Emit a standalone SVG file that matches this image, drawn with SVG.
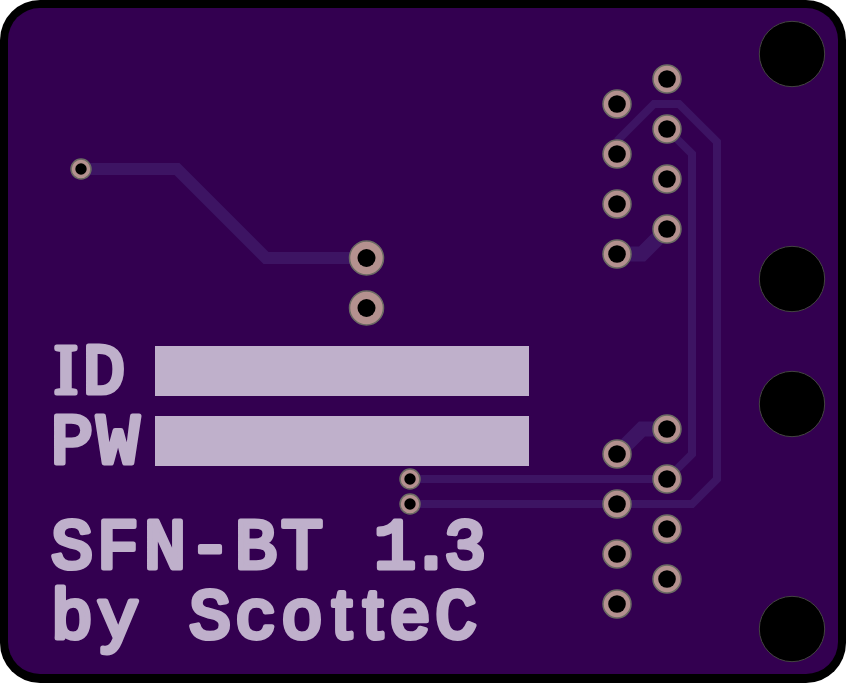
<svg xmlns="http://www.w3.org/2000/svg" width="846" height="683" viewBox="0 0 846 683">
<style>
.t{fill:none;stroke:#3d1463;stroke-width:8;stroke-linejoin:miter}
.w{stroke-width:12}.x{stroke-width:15}
.r{fill:#b4918f;stroke:#6b6b63;stroke-width:1.5}
.h{fill:#000}
.m{fill:#000;stroke:#444441;stroke-width:1}
.s{fill:#bfb0cb}
.l{font-family:"Liberation Mono",monospace;font-weight:400;font-size:70px;text-anchor:middle;fill:#bfb0cb;stroke:#bfb0cb;stroke-width:5;stroke-linejoin:round;stroke-linecap:round}
.n{font-family:"Liberation Serif",serif}
.a{font-family:"Liberation Sans",sans-serif}
</style>
<defs>
<g id="pad"><circle class="r" r="14"/><circle class="h" r="8.800"/></g>
<g id="big"><circle class="r" r="17"/><circle class="h" r="9"/></g>
<g id="via"><circle class="r" r="10"/><circle class="h" r="5.700"/></g>
</defs>
<rect width="846" height="683" fill="#fff"/>
<rect id="edge" width="846" height="683" rx="40" fill="#000"/>
<rect id="board" x="8" y="8" width="830" height="666" rx="32" fill="#330050"/>
<g id="connectors">
<path class="t w" d="M81 169H177L266 258H367"/>
<path class="t" d="M617 141L654 104H679L717 142V479L692 504H410"/>
<path class="t" d="M667 129L692 154V454L667 479H410"/>
<path class="t x" d="M617 254H642L667 229"/>
<path class="t x" d="M617 454L642 429H667"/>
</g>
<g id="mounting-holes">
<circle class="m" cx="792" cy="54" r="32.700"/>
<circle class="m" cx="792" cy="279" r="32.700"/>
<circle class="m" cx="792" cy="404" r="32.700"/>
<circle class="m" cx="792" cy="629" r="32.700"/>
</g>
<g id="pads-top">
<use href="#pad" x="667" y="79"/><use href="#pad" x="667" y="129"/><use href="#pad" x="667" y="179"/><use href="#pad" x="667" y="229"/>
<use href="#pad" x="617" y="104"/><use href="#pad" x="617" y="154"/><use href="#pad" x="617" y="204"/><use href="#pad" x="617" y="254"/>
</g>
<g id="pads-bottom">
<use href="#pad" x="667" y="429"/><use href="#pad" x="667" y="479"/><use href="#pad" x="667" y="529"/><use href="#pad" x="667" y="579"/>
<use href="#pad" x="617" y="454"/><use href="#pad" x="617" y="504"/><use href="#pad" x="617" y="554"/><use href="#pad" x="617" y="604"/>
</g>
<g id="pads-mid">
<use href="#big" x="366.500" y="258"/><use href="#big" x="366.500" y="308"/>
</g>
<g id="vias">
<use href="#via" x="81" y="169"/><use href="#via" x="410" y="479"/><use href="#via" x="410" y="504"/>
</g>
<g id="id-label"><text class="l" x="66 104" y="393"><tspan class="n">I</tspan>D</text><rect class="s" x="155" y="346" width="374" height="50"/></g>
<g id="pw-label"><text class="l" x="72 118" y="463">PW</text><rect class="s" x="155" y="416" width="374" height="50"/></g>
<g id="title"><text class="l" x="72 118 165 210 256 302 348 395 431 465" y="568">SFN-BT 1.3</text><text class="l" x="72 118 164 210 256 302 342 373 410 456" y="638">by Sco<tspan class="a">tt</tspan>eC</text></g>
</svg>
